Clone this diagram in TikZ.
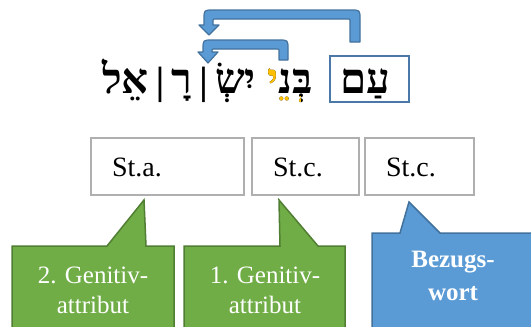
\documentclass[tikz,border=0pt]{standalone}
\usepackage{fontspec}
\setmainfont{Liberation Serif}
\newfontfamily\hebfont[Script=Hebrew]{Liberation Serif Bold}
\TeXXeTstate=1
\definecolor{boxgray}{HTML}{AFAFAF}
\definecolor{frameblue}{HTML}{4A78A8}
\definecolor{arrowfill}{HTML}{5B9BD5}
\definecolor{arrowline}{HTML}{41719C}
\definecolor{callgreen}{HTML}{70AD47}
\definecolor{callgreendark}{HTML}{507E32}
\definecolor{callblue}{HTML}{5B9BD5}
\definecolor{callbluedark}{HTML}{41719C}
\definecolor{vowelorange}{HTML}{FFC000}
\newcommand{\pasq}{\kern3pt{\fontsize{30}{30}\selectfont\raisebox{-3pt}{׀}}\kern3pt}
\begin{document}
\begin{tikzpicture}[x=1pt,y=-1pt]
\tikzset{
  graybox/.style={draw=boxgray, line width=2pt, fill=white, minimum height=57pt,
    inner xsep=21pt, inner ysep=0pt, align=left, font=\fontsize{28}{30}\selectfont,
    text height=19pt, text depth=0pt, anchor=north west},
  hebword/.style={font=\hebfont\fontsize{42}{42}\selectfont, inner sep=0pt},
  headframe/.style={draw=frameblue, line width=1.5pt, minimum width=79pt, minimum height=46pt, inner sep=0pt},
  uarrow/.style={fill=arrowfill, draw=arrowline, line width=1.2pt, line join=round},
  greencall/.style={fill=callgreen, draw=callgreendark, line width=1.5pt, line join=miter},
  bluecall/.style={fill=callblue, draw=callbluedark, line width=1.5pt, line join=miter},
  calltext/.style={text=white, align=center, font=\fontsize{25}{30}\selectfont, inner sep=0pt},
}
\useasboundingbox (0,0) rectangle (531,327);

% Hebrew words
\node[headframe] (headbox) at (369.5,79) {};
\node[hebword, anchor=base] (w1) at (365.5,93) {\beginR עַם\endR};
\node[hebword, anchor=base east] (w2) at (313,93) {\beginR בְּנֵי\endR};
\node[hebword, anchor=base east] (w3) at (256,93) {\beginR יִשְׂ\pasq רָ\pasq אֵל\endR};
% orange overlays (yod and tsere)
\begin{scope}
  \clip ([yshift=2pt]w2.base west) rectangle ([xshift=10pt]w2.north west);
  \node[hebword, anchor=base east, text=vowelorange] at (313,93) {\beginR בְּנֵי\endR};
\end{scope}
\begin{scope}
  \clip ([xshift=9pt,yshift=-3pt]w2.base west) rectangle ([xshift=33pt,yshift=-26pt]w2.base west);
  \node[hebword, anchor=base east, text=vowelorange] at (313,93) {\beginR בְּנֵי\endR};
\end{scope}

% U-turn arrows
\draw[uarrow] (350,42) -- (360,42) -- (360,19) .. controls (360,10) .. (351,10) -- (213,10)
  .. controls (204,10) .. (204,19) -- (204,25) -- (199,25) -- (209,35) -- (219,25) -- (213,25)
  -- (213,21) .. controls (213,19) .. (215,19) -- (348,19) .. controls (350,19) .. (350,21) -- cycle;
\draw[uarrow] (279,60) -- (288,60) -- (288,49) .. controls (288,40) .. (279,40) -- (212,40)
  .. controls (203,40) .. (203,49) -- (203,52) -- (198,52) -- (208,63) -- (218,52) -- (212,52)
  -- (212,51) .. controls (212,49) .. (214,49) -- (277,49) .. controls (279,49) .. (279,51) -- cycle;

% state boxes
\node[graybox, text width=111pt] (b1) at (90,137) {St.a.};
\node[graybox, text width=65pt] (b2) at (251,137) {St.c.};
\node[graybox, text width=67pt] (b3) at (364,137) {St.c.};

% callouts
\draw[greencall] (12,335) -- (12,246) -- (107,246) -- (144,200) -- (146,246) -- (174,246) -- (174,335);
\draw[greencall] (184,335) -- (184,246) -- (280,246) -- (279,200) -- (318,246) -- (345,246) -- (345,335);
\draw[bluecall] (372,335) -- (372,233) -- (400,233) -- (409,202) -- (440,233) -- (540,233) -- (540,335);
\node[calltext, anchor=base] (c1) at (93,313) {2. Genitiv-\\attribut};
\node[calltext, anchor=base] (c2) at (265,313) {1. Genitiv-\\attribut};
\node[calltext, anchor=base, font=\bfseries\fontsize{25}{33}\selectfont] (c3) at (453,300) {Bezugs-\\wort};
\end{tikzpicture}
\end{document}
